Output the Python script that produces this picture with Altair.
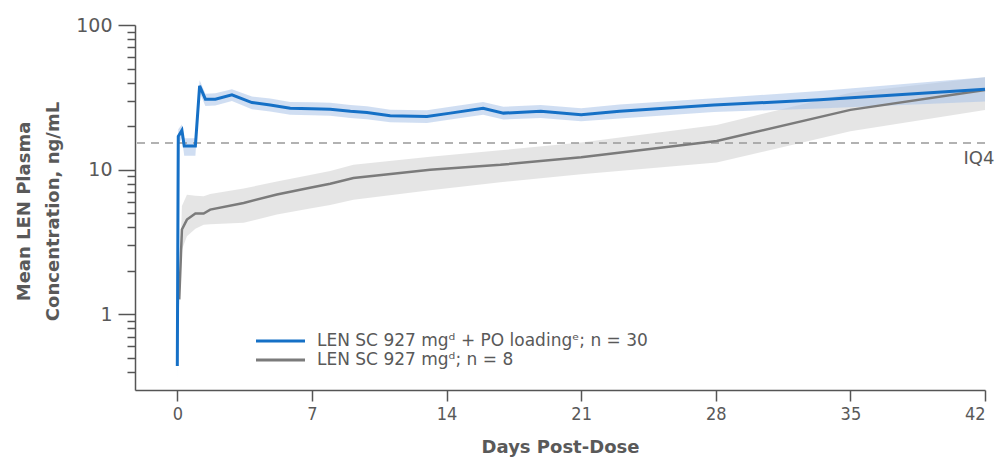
import altair as alt
import pandas as pd

series_names = ["LEN SC 927 mgᵈ + PO loadingᵉ; n = 30", "LEN SC 927 mgᵈ; n = 8"]
line_colors = ["#1570c6", "#7b7b7b"]
band_colors = ["#a9c3e8", "#e2e2e2"]

blue_day = [0, 0.05, 0.24, 0.36, 0.94, 1.16, 1.46, 1.98, 2.84, 3.88, 4.83, 5.87, 7.0, 7.95,
            9.0, 9.86, 11.07, 12.98, 14.2, 15.9, 16.96, 18.9, 21.0, 23.0, 27.9, 33.4, 42]
blue_mean = [0.44, 17.0, 18.7, 14.6, 14.6, 37.9, 30.7, 30.7, 32.9, 29.1, 28.0, 26.6, 26.4, 26.2,
             25.3, 24.8, 23.6, 23.3, 24.6, 26.6, 24.6, 25.3, 24.0, 25.3, 28.0, 30.4, 36.0]
blue_lo = [0.36, 15.0, 16.5, 12.5, 12.5, 34.0, 27.5, 27.8, 29.8, 26.2, 25.2, 24.0, 23.8, 23.6,
           22.8, 22.3, 21.3, 21.0, 22.2, 24.0, 22.2, 22.8, 21.6, 22.6, 25.0, 26.5, 29.6]
blue_hi = [0.52, 19.0, 20.5, 16.5, 16.5, 41.5, 33.5, 33.8, 36.0, 32.0, 31.0, 29.4, 29.2, 29.0,
           28.0, 27.4, 26.0, 25.8, 27.2, 29.4, 27.2, 28.0, 26.6, 28.2, 31.2, 35.0, 43.6]

gray_day = [0.1, 0.24, 0.5, 0.94, 1.37, 1.71, 3.45, 5.18, 6.9, 7.95, 9.16, 13.15, 16.8, 21.0,
            28.05, 35.0, 42]
gray_mean = [1.27, 3.86, 4.52, 4.98, 4.98, 5.3, 5.89, 6.73, 7.5, 8.0, 8.77, 10.0, 10.8, 12.2,
             15.8, 25.9, 35.6]
gray_lo = [1.1, 2.8, 3.47, 3.9, 4.17, 4.2, 4.3, 4.9, 5.4, 5.7, 6.2, 7.2, 8.2, 9.3,
           11.2, 18.4, 25.9]
gray_hi = [1.5, 5.6, 6.7, 6.6, 6.55, 6.8, 7.4, 8.3, 9.2, 9.8, 10.8, 12.3, 13.6, 15.4,
           20.4, 34.0, 43.6]

x_ticks = [0, 7, 14, 21, 28, 35, 42]
y_major = [1, 10, 100]
y_minor = [0.4, 0.5, 0.6, 0.7, 0.8, 0.9, 2, 3, 4, 5, 6, 7, 8, 9, 20, 30, 40, 50, 60, 70, 80, 90]
iq4_value = 15.3
iq4_label = "IQ4"
x_title = "Days Post-Dose"
y_title = ["Mean LEN Plasma", "Concentration, ng/mL"]

df_blue = pd.DataFrame({"day": blue_day, "mean": blue_mean, "lo": blue_lo, "hi": blue_hi,
                        "series": series_names[0]})
df_gray = pd.DataFrame({"day": gray_day, "mean": gray_mean, "lo": gray_lo, "hi": gray_hi,
                        "series": series_names[1]})

FONT = "DejaVu Sans"
TXT = "#595959"
major_test = f"indexof({y_major}, datum.value) >= 0"

xscale = alt.Scale(domain=[-2.2, 42], nice=False, zero=False)
yscale = alt.Scale(type="log", domain=[0.3, 100], nice=False)
color_scale = alt.Scale(domain=series_names, range=line_colors)

xaxis = alt.Axis(values=x_ticks, title=x_title, grid=False, tickSize=11, tickWidth=1.5,
                 tickColor="#555555", domainColor="#555555", domainWidth=1.5,
                 labelFont="DejaVu Sans Condensed", labelFontSize=18, labelColor=TXT,
                 labelPadding=4, titleFont=FONT, titleFontSize=18, titleFontWeight="bold",
                 titleColor=TXT, titlePadding=15)
yaxis = alt.Axis(values=y_major + y_minor, title=y_title, grid=False,
                 labelExpr=f"{major_test} ? datum.value + '' : ''",
                 labelOverlap=False, labelFont=FONT, labelFontSize=19, labelColor=TXT,
                 labelPadding=6,
                 tickSize={"condition": {"test": major_test, "value": 17}, "value": 8},
                 tickWidth=1.5, tickColor="#555555", domainColor="#555555", domainWidth=1.5,
                 titleFont=FONT, titleFontSize=18, titleFontWeight="bold", titleColor=TXT,
                 titleLineHeight=29, titleX=-111, titleY=186, titleBaseline="middle",
                 titleAlign="center")

X = alt.X("day:Q", scale=xscale, axis=xaxis)


def band(df, color, opacity):
    return alt.Chart(df).mark_area(color=color, opacity=opacity).encode(
        x=X, y=alt.Y("lo:Q", scale=yscale, axis=yaxis), y2="hi:Q")


def line(df, width):
    return alt.Chart(df).mark_line(strokeWidth=width).encode(
        x=X, y=alt.Y("mean:Q", scale=yscale, axis=yaxis),
        color=alt.Color("series:N", scale=color_scale, legend=None))


ref_df = pd.DataFrame({"v": [iq4_value], "label": [iq4_label], "day": [x_ticks[-1]]})
ref_rule = alt.Chart(ref_df).mark_rule(color="#999999", strokeWidth=1.5, strokeDash=[8, 6]).encode(
    y=alt.Y("v:Q", scale=yscale, axis=yaxis))
ref_text = alt.Chart(ref_df).mark_text(font=FONT, fontSize=18, color=TXT, align="center",
                                       baseline="top", dy=7, dx=-6).encode(
    x=X, y=alt.Y("v:Q", scale=yscale, axis=yaxis), text="label:N")

legend_layers = []
for i, name in enumerate(series_names):
    ldf = pd.DataFrame({"series": [name]})
    legend_layers.append(alt.Chart(ldf).mark_rule(strokeWidth=3).encode(
        x=alt.value(121), x2=alt.value(170), y=alt.value(316 + 19 * i),
        color=alt.Color("series:N", scale=color_scale, legend=None)))
    legend_layers.append(alt.Chart(ldf).mark_text(font=FONT, fontSize=17, color=TXT, align="left",
                                                  baseline="middle").encode(
        x=alt.value(182), y=alt.value(316 + 19 * i), text="series:N"))

chart = alt.layer(
    band(df_gray, band_colors[1], 0.9),
    band(df_blue, band_colors[0], 0.55),
    ref_rule,
    line(df_gray, 2.5),
    line(df_blue, 3),
    ref_text,
    *legend_layers,
).properties(
    width=850, height=365,
    autosize=alt.AutoSizeParams(type="none"),
    padding={"left": 127, "top": 17, "right": 12, "bottom": 67},
).configure_view(stroke=None)

chart.save("out.html", embed_options={"renderer": "svg", "actions": False})
